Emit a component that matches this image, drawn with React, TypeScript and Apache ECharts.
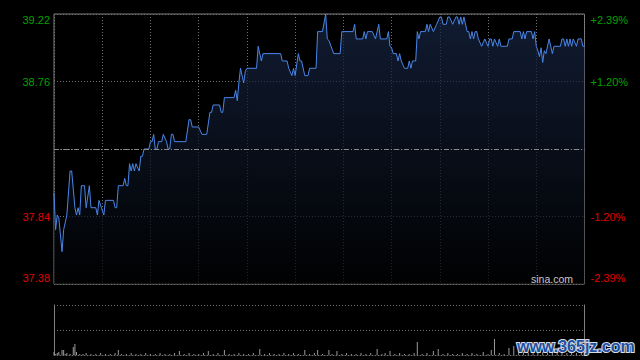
import React, { useEffect, useRef } from "react";
import * as echarts from "echarts";

const prevClose = 38.3;
const leftLabels = ["37.38", "37.84", "", "38.76", "39.22"];
const rightLabels = ["-2.39%", "-1.20%", "", "+1.20%", "+2.39%"];

// [minute of session, price]
const pricePoints: [number, number][] = [
  [0, 38.0], [1, 37.75], [2, 37.85], [3, 37.83], [5, 37.6], [6, 37.75], [8, 37.85], [10, 38.15], [11, 38.15],
  [13, 37.9], [14, 37.85], [15, 37.9], [16, 37.85], [17, 38.05], [19, 38.05], [20, 37.9], [22, 38.05], [23, 37.9],
  [26, 37.9], [27, 37.85], [28, 37.95], [31, 37.85], [32, 37.95], [37, 37.95], [38, 37.9], [39, 37.9], [40, 38.05],
  [43, 38.05], [44, 38.1], [45, 38.05], [46, 38.05], [47, 38.2], [48, 38.15], [49, 38.2], [50, 38.15], [51, 38.2],
  [53, 38.15], [54, 38.25], [55, 38.25], [56, 38.3], [59, 38.3], [60, 38.35], [61, 38.35], [62, 38.4], [63, 38.3],
  [64, 38.3], [65, 38.35], [67, 38.35], [68, 38.4], [70, 38.35], [71, 38.3], [72, 38.3], [73, 38.4], [74, 38.4],
  [75, 38.35], [82, 38.35], [84, 38.5], [85, 38.5], [86, 38.45], [90, 38.45], [92, 38.4], [95, 38.4], [97, 38.55],
  [98, 38.55], [99, 38.6], [103, 38.6], [104, 38.55], [105, 38.55], [106, 38.65], [112, 38.65], [113, 38.7],
  [114, 38.63], [115, 38.75], [116, 38.85], [118, 38.75], [119, 38.83], [120, 38.85], [126, 38.85], [127, 39.0],
  [129, 38.9], [130, 38.95], [141, 38.95], [142, 38.9], [145, 38.9], [146, 38.85], [148, 38.8], [149, 38.85],
  [150, 38.8], [152, 38.95], [153, 38.9], [154, 38.9], [156, 38.8], [158, 38.8], [159, 38.85], [163, 38.85],
  [164, 39.1], [167, 39.1], [169, 39.22], [170, 39.05], [171, 39.04], [174, 38.95], [178, 38.95], [179, 39.1],
  [186, 39.1], [187, 39.15], [188, 39.05], [192, 39.05], [193, 39.1], [194, 39.05], [195, 39.1], [198, 39.1],
  [200, 39.05], [202, 39.15], [203, 39.05], [207, 39.05], [208, 39.1], [209, 39.0], [210, 38.99], [211, 38.95],
  [213, 38.95], [214, 38.9], [215, 38.95], [216, 38.9], [218, 38.85], [220, 38.85], [221, 38.9], [222, 38.85],
  [223, 38.9], [225, 38.9], [226, 39.1], [227, 39.05], [228, 39.1], [231, 39.1], [232, 39.15], [233, 39.1],
  [234, 39.15], [236, 39.1], [238, 39.15], [240, 39.2], [241, 39.2], [242, 39.15], [244, 39.15], [245, 39.2],
  [246, 39.2], [248, 39.15], [250, 39.2], [251, 39.2], [252, 39.15], [253, 39.2], [254, 39.15], [255, 39.2],
  [257, 39.1], [258, 39.1], [259, 39.05], [260, 39.1], [261, 39.05], [262, 39.1], [263, 39.1], [264, 39.05],
  [266, 39.0], [268, 39.05], [270, 39.0], [271, 39.05], [272, 39.05], [273, 39.0], [274, 39.05], [276, 39.0],
  [277, 39.05], [278, 39.0], [282, 39.0], [283, 39.05], [285, 39.05], [286, 39.1], [290, 39.1], [291, 39.05],
  [292, 39.1], [293, 39.05], [294, 39.1], [297, 39.1], [298, 39.05], [299, 39.1], [300, 39.0], [301, 38.97],
  [302, 38.93], [303, 38.99], [304, 38.89], [305, 38.97], [306, 38.95], [308, 39.05], [310, 38.95], [311, 39.0],
  [315, 39.0], [316, 39.05], [317, 39.05], [318, 39.0], [319, 39.05], [320, 39.0], [321, 39.05], [322, 39.0],
  [323, 39.05], [325, 39.0], [326, 39.05], [328, 39.05], [329, 39.0], [330, 39.0],
];

// [minute of session, volume (relative)]
const volumePoints: [number, number][] = [
  [0, 3], [1, 1], [2, 2], [3, 3], [5, 5], [6, 5], [7, 1], [8, 2], [10, 1], [12, 8], [13, 11], [14, 3], [16, 1],
  [18, 1], [20, 2], [23, 1], [26, 1], [29, 2], [32, 1], [35, 1], [38, 2], [40, 5], [42, 1], [45, 1], [48, 2],
  [51, 1], [54, 1], [57, 2], [60, 1], [63, 1], [66, 2], [69, 1], [72, 1], [75, 2], [78, 4], [81, 1], [84, 2],
  [87, 1], [90, 1], [93, 2], [96, 4], [99, 1], [102, 2], [106, 5], [109, 1], [112, 1], [115, 2], [118, 1],
  [121, 1], [124, 2], [128, 6], [131, 1], [134, 2], [137, 1], [140, 1], [143, 2], [146, 1], [149, 2], [152, 1],
  [156, 5], [159, 1], [162, 2], [164, 5], [167, 1], [171, 5], [173, 1], [176, 4], [179, 1], [182, 2], [185, 1],
  [188, 1], [191, 2], [194, 1], [197, 2], [201, 6], [204, 1], [206, 2], [209, 4], [212, 1], [215, 2], [218, 1],
  [221, 1], [224, 2], [226, 13], [229, 1], [232, 2], [236, 4], [239, 6], [242, 1], [245, 2], [248, 1], [251, 1],
  [254, 2], [257, 1], [260, 2], [263, 1], [267, 3], [270, 1], [272, 5], [274, 16], [277, 2], [280, 1], [283, 7],
  [286, 9], [289, 2], [292, 3], [295, 2], [298, 4], [301, 2], [304, 3], [307, 2], [310, 5], [313, 2], [316, 3],
  [319, 2], [322, 4], [325, 2], [328, 3], [330, 2],
];

const GREEN = "#00a000";
const RED = "#e00000";
const GRID = "#707070";
const FONT = "Arial, 'Liberation Sans', sans-serif";

const idxOf = (v: number) => Math.round((v + 0.92) / 0.46);

const richStyles = {
  gt: { color: GREEN, fontSize: 11, fontFamily: FONT, padding: [12, 0, 0, 0] },
  g: { color: GREEN, fontSize: 11, fontFamily: FONT },
  r: { color: RED, fontSize: 11, fontFamily: FONT },
  rb: { color: RED, fontSize: 11, fontFamily: FONT, padding: [0, 0, 12, 0] },
};

const fmt = (labels: string[]) => (v: number) => {
  const i = idxOf(v);
  const t = labels[i];
  if (!t) return "";
  if (i === 4) return `{gt|${t}}`;
  if (i === 3) return `{g|${t}}`;
  if (i === 1) return `{r|${t}}`;
  return `{rb|${t}}`;
};

export default function App() {
  const ref = useRef<HTMLDivElement>(null);
  useEffect(() => {
    if (!ref.current) return;
    const chart = echarts.init(ref.current, null, { renderer: "svg" });
    chart.setOption({
      animation: false,
      backgroundColor: "#000",
      grid: [
        { left: 54, top: 14, right: 55.5, height: 270, show: true, borderColor: "#808080", borderWidth: 1, backgroundColor: "transparent" },
        { left: 54, top: 305, right: 55.5, height: 50 },
      ],
      xAxis: [
        {
          gridIndex: 0, type: "value", min: 0, max: 330, interval: 30,
          axisLine: { show: false }, axisTick: { show: false }, axisLabel: { show: false },
          splitLine: { show: true, lineStyle: { color: GRID, type: [1, 2], width: 1 } },
        },
        {
          gridIndex: 1, type: "value", min: 0, max: 330, interval: 30,
          axisLine: { show: true, lineStyle: { color: GRID, type: [1, 2] } },
          axisTick: { show: false }, axisLabel: { show: false }, splitLine: { show: false },
        },
      ],
      yAxis: [
        {
          gridIndex: 0, type: "value", min: -0.92, max: 0.92, interval: 0.46, position: "left",
          axisLine: { show: false }, axisTick: { show: false },
          splitLine: { show: true, lineStyle: { color: GRID, type: [1, 2], width: 1 } },
          axisLabel: { margin: 4, formatter: fmt(leftLabels), rich: richStyles },
        },
        {
          gridIndex: 0, type: "value", min: -0.92, max: 0.92, interval: 0.46, position: "right",
          axisLine: { show: false }, axisTick: { show: false }, splitLine: { show: false },
          axisLabel: { margin: 6, formatter: fmt(rightLabels), rich: richStyles },
        },
        {
          gridIndex: 1, type: "value", min: 0, max: 50, interval: 25, position: "left",
          axisLine: { show: true, lineStyle: { color: "#808080" } }, axisTick: { show: false }, axisLabel: { show: false },
          splitLine: { show: true, lineStyle: { color: GRID, type: [1, 2], width: 1 } },
        },
        {
          gridIndex: 1, type: "value", min: 0, max: 50, interval: 25, position: "right",
          axisLine: { show: true, lineStyle: { color: "#808080" } }, axisTick: { show: false }, axisLabel: { show: false },
          splitLine: { show: false },
        },
      ],
      series: [
        {
          type: "line",
          xAxisIndex: 0,
          yAxisIndex: 0,
          data: pricePoints.map(([m, p]) => [m, +(p - prevClose).toFixed(4)]),
          showSymbol: false,
          symbol: "none",
          lineStyle: { color: "#4a86e8", width: 1 },
          areaStyle: {
            origin: "start",
            color: new echarts.graphic.LinearGradient(0, 0, 0, 1, [
              { offset: 0, color: "#182746" },
              { offset: 1, color: "#010203" },
            ]),
          },
          markLine: {
            silent: true,
            symbol: "none",
            label: { show: false },
            lineStyle: { color: "#8a8a8a", type: [5, 2, 1, 2], width: 1 },
            data: [{ yAxis: 0 }],
          },
          z: 3,
        },
        {
          type: "bar",
          xAxisIndex: 1,
          yAxisIndex: 2,
          data: volumePoints,
          barWidth: 1,
          itemStyle: { color: "#9a9a9a" },
        },
      ],
      graphic: [
        {
          type: "text",
          right: 67,
          top: 273,
          style: { text: "sina.com", fill: "#c8c8c8", font: `10.5px ${FONT}` },
          z: 10,
        },
        {
          type: "text",
          left: 516,
          top: 337,
          style: {
            text: "www.365jz.com",
            fill: "#1f4fa0",
            stroke: "#d8dce6",
            lineWidth: 2,
            font: `bold 16px ${FONT}`,
          },
          z: 10,
        },
      ],
    });
    return () => chart.dispose();
  }, []);
  return (
    <div
      ref={ref}
      style={{ position: "fixed", left: 0, top: 0, width: 640, height: 360, background: "#000" }}
    />
  );
}
